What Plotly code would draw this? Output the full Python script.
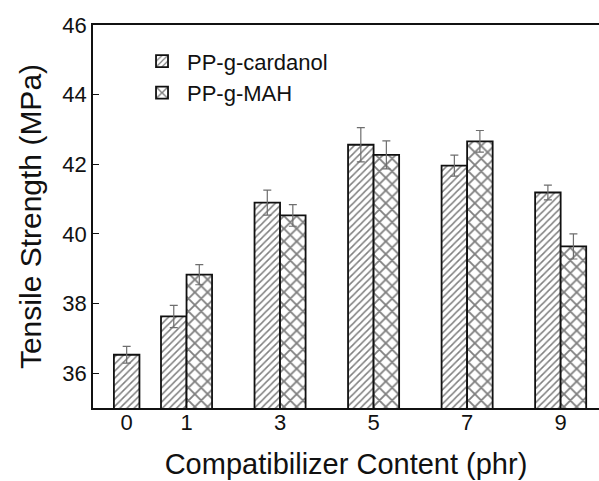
import plotly.graph_objects as go

# ---- data ----
categories = ["0", "1", "3", "5", "7", "9"]
cardanol = [36.53, 37.63, 40.90, 42.56, 41.96, 41.19]
cardanol_err = [0.24, 0.32, 0.36, 0.49, 0.30, 0.21]
mah = [None, 38.83, 40.53, 42.27, 42.66, 39.64]
mah_err = [None, 0.29, 0.31, 0.40, 0.31, 0.36]

# ---- layout helpers (axis slots of each group) ----
group_pos = [0.36, 1, 2, 3, 4, 5]
bw = 0.273

card_x = [p if m is None else p - bw / 2 for p, m in zip(group_pos, mah)]
mah_x = [p + bw / 2 for p in group_pos]

FONT = "Arial, Liberation Sans, Helvetica, sans-serif"
err_style = dict(type="data", visible=True, color="#6e6e6e", thickness=1.2, width=4)

fig = go.Figure()
fig.add_trace(go.Bar(
    name="PP-g-cardanol", x=card_x, y=cardanol, width=bw,
    error_y=dict(array=cardanol_err, **err_style),
    marker=dict(color="white", line=dict(color="#111", width=1.8),
                pattern=dict(shape="/", fgcolor="#000", bgcolor="white", size=5, solidity=0.3)),
))
fig.add_trace(go.Bar(
    name="PP-g-MAH", x=mah_x, y=mah, width=bw,
    error_y=dict(array=mah_err, **err_style),
    marker=dict(color="white", line=dict(color="#111", width=1.8),
                pattern=dict(shape="x", fgcolor="#000", bgcolor="white", size=9, solidity=0.36)),
))

fig.update_layout(
    width=599, height=481,
    margin=dict(l=93, r=0, t=25, b=73),
    plot_bgcolor="white", paper_bgcolor="white",
    barmode="overlay",
    font=dict(family=FONT, color="#111"),
    showlegend=True,
    legend=dict(x=0.087, y=0.96, xanchor="left", yanchor="top",
                bgcolor="rgba(0,0,0,0)", font=dict(size=22, family=FONT),
                itemwidth=40, tracegroupgap=0),
    xaxis=dict(range=[0, 5.41], tickvals=group_pos, ticktext=categories,
               showline=True, linecolor="#111", linewidth=1.5, mirror=True,
               ticks="", showgrid=False, zeroline=False,
               tickfont=dict(size=22), ticklabelstandoff=-6,
               title=dict(text="Compatibilizer Content (phr)", font=dict(size=29), standoff=20)),
    yaxis=dict(range=[35, 46], tick0=36, dtick=2,
               showline=True, linecolor="#111", linewidth=1.5, mirror=False,
               ticks="inside", ticklen=6, tickcolor="#111",
               showgrid=False, zeroline=False,
               tickfont=dict(size=22),
               title=dict(text="Tensile Strength (MPa)", font=dict(size=30), standoff=12)),
)

fig.write_html("out.html")
